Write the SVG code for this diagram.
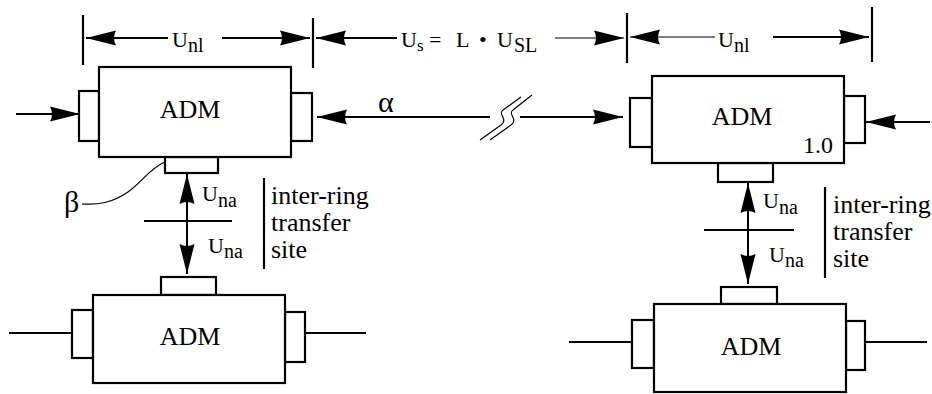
<svg xmlns="http://www.w3.org/2000/svg" width="932" height="394" viewBox="0 0 932 394">
<defs>
<marker id="ah" markerUnits="userSpaceOnUse" markerWidth="34" markerHeight="20" refX="0" refY="0" viewBox="-32 -10 34 20" orient="auto-start-reverse" overflow="visible">
<path d="M0,0 L-30,-7.5 Q-26,0 -30,7.5 Z" fill="#000"/>
</marker>
</defs>
<style>
.box{fill:#fff;stroke:#000;stroke-width:2.2}
.ln{fill:none;stroke:#000;stroke-width:2}
.thin{fill:none;stroke:#000;stroke-width:1.2}
.tick{stroke:#000;stroke-width:2.2}
text{fill:#000}
.lbl{font-size:26px;text-anchor:middle}
.u{font-size:22px}
.sub{font-size:20px}
.side{font-size:26px}
</style>
<g font-family="Liberation Serif, Times New Roman, serif">
<g id="dimensions">
<line class="tick" x1="83" y1="15" x2="83" y2="65"/>
<line class="tick" x1="313" y1="18" x2="313" y2="68"/>
<line class="tick" x1="627" y1="13" x2="627" y2="63"/>
<line class="tick" x1="872" y1="7" x2="872" y2="62"/>
<line class="ln" x1="168" y1="38" x2="86" y2="38" marker-end="url(#ah)"/>
<line class="ln" x1="222" y1="38" x2="310" y2="38" marker-end="url(#ah)"/>
<line class="ln" x1="397" y1="38" x2="316" y2="38" marker-end="url(#ah)"/>
<line class="thin" x1="555" y1="38" x2="624" y2="38" marker-end="url(#ah)"/>
<line class="thin" x1="715" y1="37" x2="630" y2="37" marker-end="url(#ah)"/>
<line class="ln" x1="773" y1="37" x2="869" y2="37" marker-end="url(#ah)"/>
<text class="u" x="172" y="47">U<tspan class="sub" dy="5">nl</tspan></text>
<text class="u" x="718" y="47">U<tspan class="sub" dy="5">nl</tspan></text>
<text class="u" y="47"><tspan x="401">U</tspan><tspan x="417" dy="4" font-size="17px">s</tspan><tspan x="429" dy="-4">=</tspan><tspan x="456">L</tspan><tspan x="479">•</tspan><tspan x="497">U</tspan><tspan class="sub" x="514" dy="5">SL</tspan></text>
</g>

<g id="adm-top-left">
<rect class="box" x="79" y="91" width="20" height="50"/>
<rect class="box" x="291" y="93" width="21" height="48"/>
<rect class="box" x="165" y="157" width="53" height="16"/>
<rect class="box" x="99" y="67" width="192" height="90"/>
<text class="lbl" x="190" y="118">ADM</text>
</g>

<g id="adm-top-right">
<rect class="box" x="630" y="98" width="22" height="49"/>
<rect class="box" x="844" y="96" width="21" height="47"/>
<rect class="box" x="718" y="163" width="55" height="19"/>
<rect class="box" x="652" y="76" width="192" height="87"/>
<text class="lbl" x="742" y="125">ADM</text>
<text x="803" y="153" font-size="24px">1.0</text>
</g>

<g id="adm-bottom-left">
<rect class="box" x="72" y="310" width="21" height="48"/>
<rect class="box" x="285" y="312" width="20" height="50"/>
<rect class="box" x="161" y="277" width="55" height="18"/>
<rect class="box" x="93" y="295" width="192" height="88"/>
<text class="lbl" x="190" y="345">ADM</text>
</g>

<g id="adm-bottom-right">
<rect class="box" x="632" y="320" width="22" height="48"/>
<rect class="box" x="846" y="321" width="19" height="49"/>
<rect class="box" x="721" y="287" width="56" height="17"/>
<rect class="box" x="654" y="304" width="192" height="88"/>
<text class="lbl" x="751" y="355">ADM</text>
</g>

<g id="transfer-left">
<line class="tick" x1="264" y1="178" x2="264" y2="269"/>
<text class="side" x="271" y="204">inter-ring</text>
<text class="side" x="271" y="231">transfer</text>
<text class="side" x="271" y="258">site</text>
<text class="u" x="202" y="201">U<tspan class="sub" dy="6">na</tspan></text>
<text class="u" x="208" y="253">U<tspan class="sub" dy="5">na</tspan></text>
</g>

<g id="transfer-right">
<line class="tick" x1="825" y1="187" x2="825" y2="278"/>
<text class="side" x="833" y="213">inter-ring</text>
<text class="side" x="833" y="240">transfer</text>
<text class="side" x="833" y="267">site</text>
<text class="u" x="763" y="208">U<tspan class="sub" dy="6">na</tspan></text>
<text class="u" x="769" y="262">U<tspan class="sub" dy="5">na</tspan></text>
</g>

<g id="connectors">
<line class="ln" x1="16" y1="114" x2="80" y2="114" marker-end="url(#ah)"/>
<line class="ln" x1="930" y1="122" x2="866" y2="122" marker-end="url(#ah)"/>
<line class="ln" x1="490" y1="117" x2="317" y2="117" marker-end="url(#ah)"/>
<line class="ln" x1="520" y1="117" x2="623" y2="117" marker-end="url(#ah)"/>
<path class="thin" d="M521,97 L503,110 C497,114 509,119 501,125 L480,140"/>
<path class="thin" d="M532,95 L513,110 C507,114 519,119 511,125 L490,140"/>
<text x="378" y="112" font-size="30px">α</text>
<line class="ln" x1="187" y1="174" x2="187" y2="274" marker-start="url(#ah)" marker-end="url(#ah)"/>
<line class="ln" x1="748" y1="183" x2="748" y2="284" marker-start="url(#ah)" marker-end="url(#ah)"/>
<line class="ln" x1="144" y1="221" x2="232" y2="221"/>
<line class="ln" x1="704" y1="230" x2="794" y2="230"/>
<line class="ln" x1="9" y1="333" x2="72" y2="333"/>
<line class="ln" x1="305" y1="333" x2="366" y2="333"/>
<line class="ln" x1="569" y1="342" x2="632" y2="342"/>
<line class="ln" x1="865" y1="342" x2="927" y2="342"/>
<path class="thin" d="M165,162 C150,168 142,182 128,192 C112,203 98,205 82,204"/>
<text x="64" y="212" font-size="30px">β</text>
</g>
</g>
</svg>
